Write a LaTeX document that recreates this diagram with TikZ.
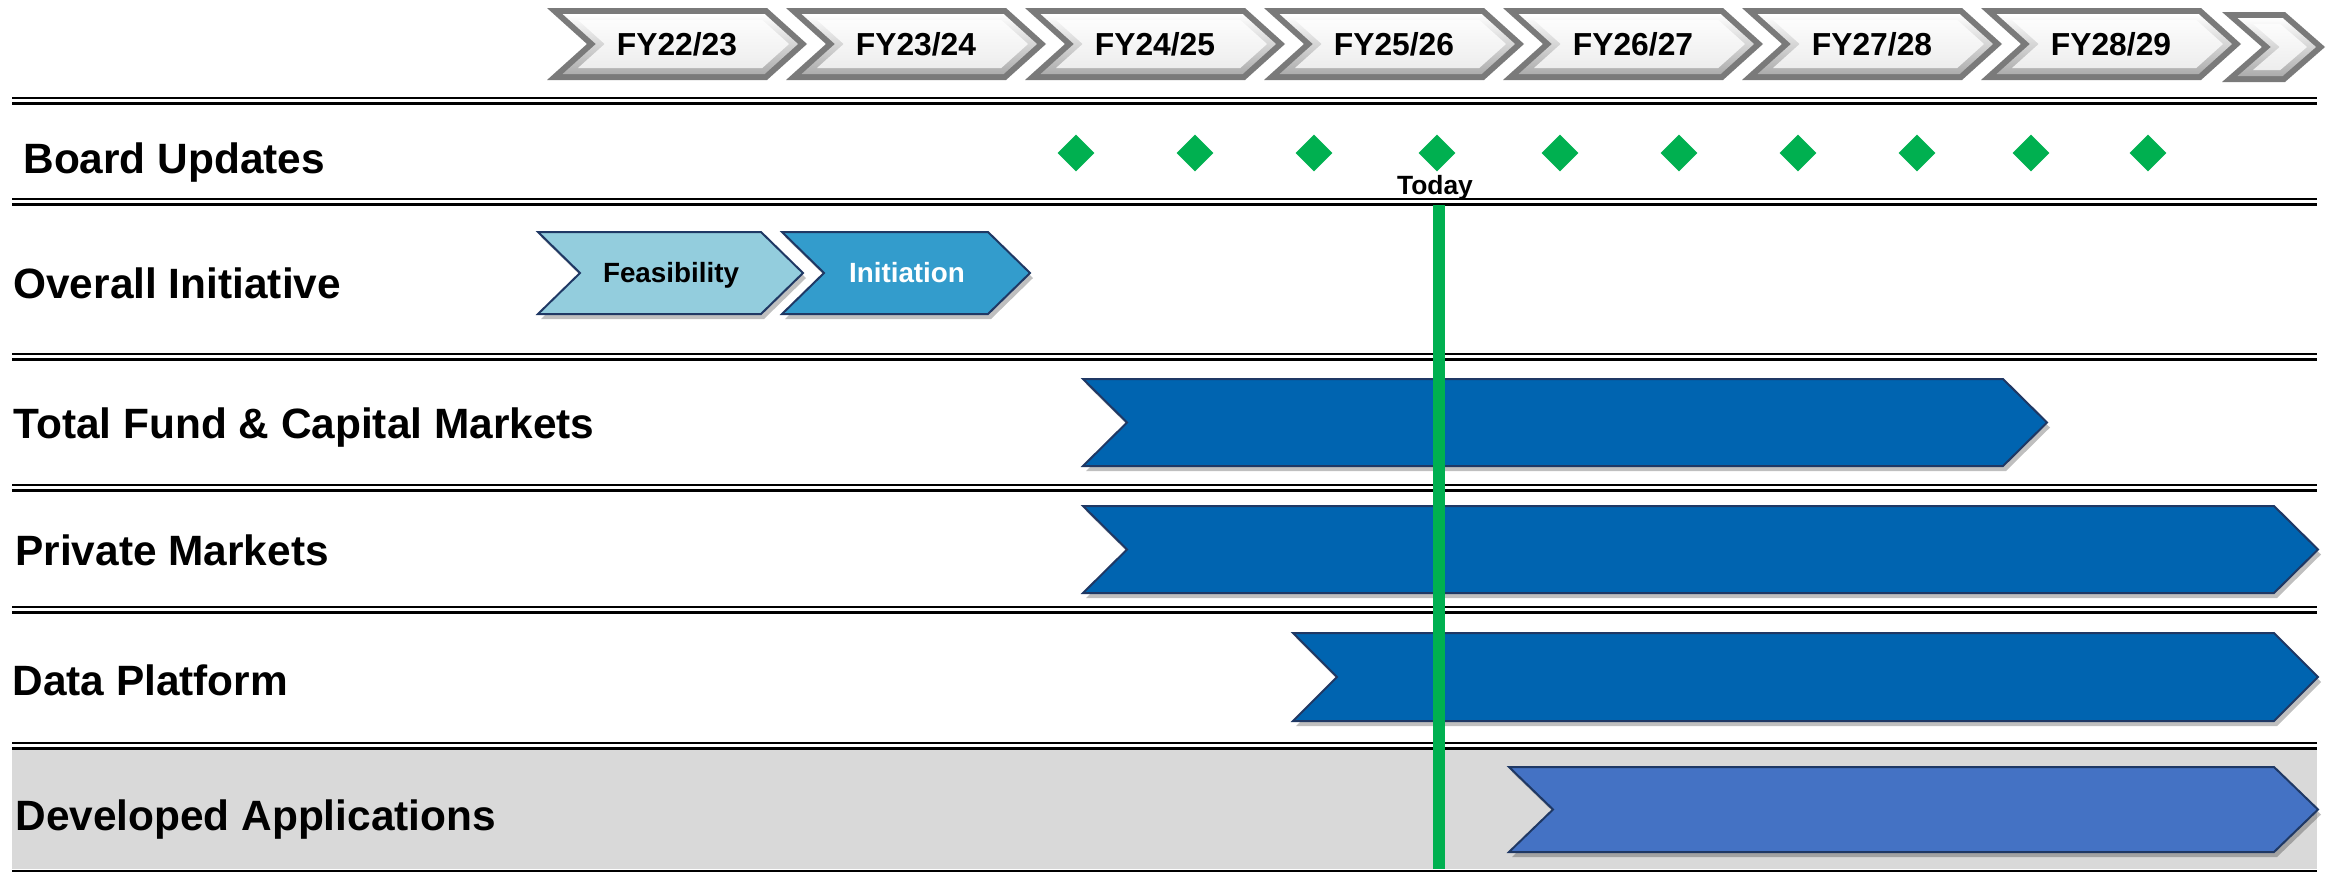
\documentclass[tikz,border=0pt]{standalone}
\usepackage{fontspec}
\setmainfont{Liberation Sans}
\usetikzlibrary{shadows,shapes.geometric}
\definecolor{barblue}{HTML}{0064B0}
\definecolor{devblue}{HTML}{4472C4}
\definecolor{navy}{HTML}{1F3864}
\definecolor{feasblue}{HTML}{93CDDD}
\definecolor{initblue}{HTML}{339CCC}
\definecolor{todaygreen}{HTML}{00B050}
\definecolor{bandgray}{HTML}{D9D9D9}
\definecolor{fyborder}{HTML}{7A7A7A}
% #1 style, #2 left x, #3 top, #4 bottom, #5 tip x, #6 depth
\newcommand{\chevpath}[6]{%
  \pgfmathsetmacro\chm{(#3+#4)/2}%
  \path[#1] (#2,#3) -- ({#5-#6},#3) -- (#5,\chm) -- ({#5-#6},#4) -- (#2,#4) -- ({#2+#6},\chm) -- cycle;}
% header chevron: #1 name, #2 left x, #3 label
\newcommand{\fychev}[3]{%
  \chevpath{fill=fyborder}{#2}{8}{80}{#2+260}{40}
  \chevpath{top color=white, bottom color=gray!65}{#2+15.6}{14}{74}{#2+251}{33.3}
  \chevpath{top color=gray!2, bottom color=gray!14}{#2+31}{20}{68}{#2+242}{26.7}
  \node[fytext] (#1) at (#2+130,44) {#3};}
\begin{document}
\begin{tikzpicture}[x=0.5pt,y=-0.5pt,
  fytext/.style={inner sep=0pt, font=\fontsize{15.9pt}{18pt}\selectfont\bfseries, text height=11.4pt, text depth=0pt},
  rowlabel/.style={anchor=west, inner sep=0pt, font=\fontsize{21.2pt}{24pt}\selectfont\bfseries, text height=15.2pt, text depth=0pt},
  phasetext/.style={inner sep=0pt, font=\fontsize{13.9pt}{16pt}\selectfont\bfseries, text height=9.9pt, text depth=0pt},
  barshadow/.style={drop shadow={opacity=0.25, shadow xshift=1.5pt, shadow yshift=-2.5pt, fill=black}},
  bar/.style={fill=barblue, draw=navy, line width=1pt, line join=miter, barshadow},
  devbar/.style={fill=devblue, draw=navy, line width=1pt, line join=miter, barshadow},
  phase/.style={draw=navy, line width=1pt, line join=miter, barshadow},
  sepline/.style={black, line width=1.25pt},
  milestone/.style={diamond, fill=todaygreen, inner sep=0pt, minimum width=18.5pt, minimum height=18.5pt}]
\useasboundingbox (0,0) rectangle (2336,874);
\fill[white] (0,0) rectangle (2336,874);
% shaded band of last row
\fill[bandgray] (12,749) rectangle (2317,869);
% header chevrons
\fychev{fy1}{547}{FY22/23}
\fychev{fy2}{786}{FY23/24}
\fychev{fy3}{1025}{FY24/25}
\fychev{fy4}{1264}{FY25/26}
\fychev{fy5}{1503}{FY26/27}
\fychev{fy6}{1742}{FY27/28}
\fychev{fy7}{1981}{FY28/29}
\chevpath{fill=fyborder}{2222}{12}{82}{2325}{40}
\chevpath{top color=white, bottom color=gray!65}{2237.6}{18}{76}{2316}{33.3}
\chevpath{top color=gray!2, bottom color=gray!14}{2253}{24}{70}{2307}{26.7}
% separator double lines
\foreach \ya in {98,199,354,485,607,743}{
  \draw[sepline] (12,\ya) -- (2317,\ya);
  \draw[sepline] (12,\ya+5.5) -- (2317,\ya+5.5);
}
\draw[sepline] (12,871) -- (2317,871);
% board update milestones
\foreach \mx [count=\k] in {1076,1195,1314,1437,1560,1679,1798,1917,2031,2148}{
  \node[milestone] (m\k) at (\mx,153) {};
}
% phases of the overall initiative
\chevpath{phase, fill=feasblue}{538}{232}{314}{803}{42}
\node[phasetext] (feas) at (671,273) {Feasibility};
\chevpath{phase, fill=initblue}{782}{232}{314}{1030}{42}
\node[phasetext, text=white] (init) at (907,273) {Initiation};
% work-stream bars
\chevpath{bar}{1083}{379}{466}{2047}{44}
\chevpath{bar}{1083}{506}{593}{2318}{44}
\chevpath{bar}{1293}{633}{721}{2318}{44}
\chevpath{devbar}{1509}{767}{852}{2318}{44}
% today line
\coordinate (todaytop) at (1439,205);
\coordinate (todaybot) at (1439,869);
\draw[todaygreen, line width=6pt] (todaytop) -- (todaybot);
\node[inner sep=0pt, font=\fontsize{13.2pt}{15pt}\selectfont\bfseries, text height=9.5pt, text depth=0pt] (today) at (1435,185) {Today};
% row labels
\node[rowlabel] (lboard) at (23,158) {Board Updates};
\node[rowlabel] (loverall) at (13,283) {Overall Initiative};
\node[rowlabel] (ltotal) at (13,423) {Total Fund \& Capital Markets};
\node[rowlabel] (lprivate) at (15,550) {Private Markets};
\node[rowlabel] (ldata) at (12,680) {Data Platform};
\node[rowlabel] (ldev) at (15,815) {Developed Applications};
\end{tikzpicture}
\end{document}
